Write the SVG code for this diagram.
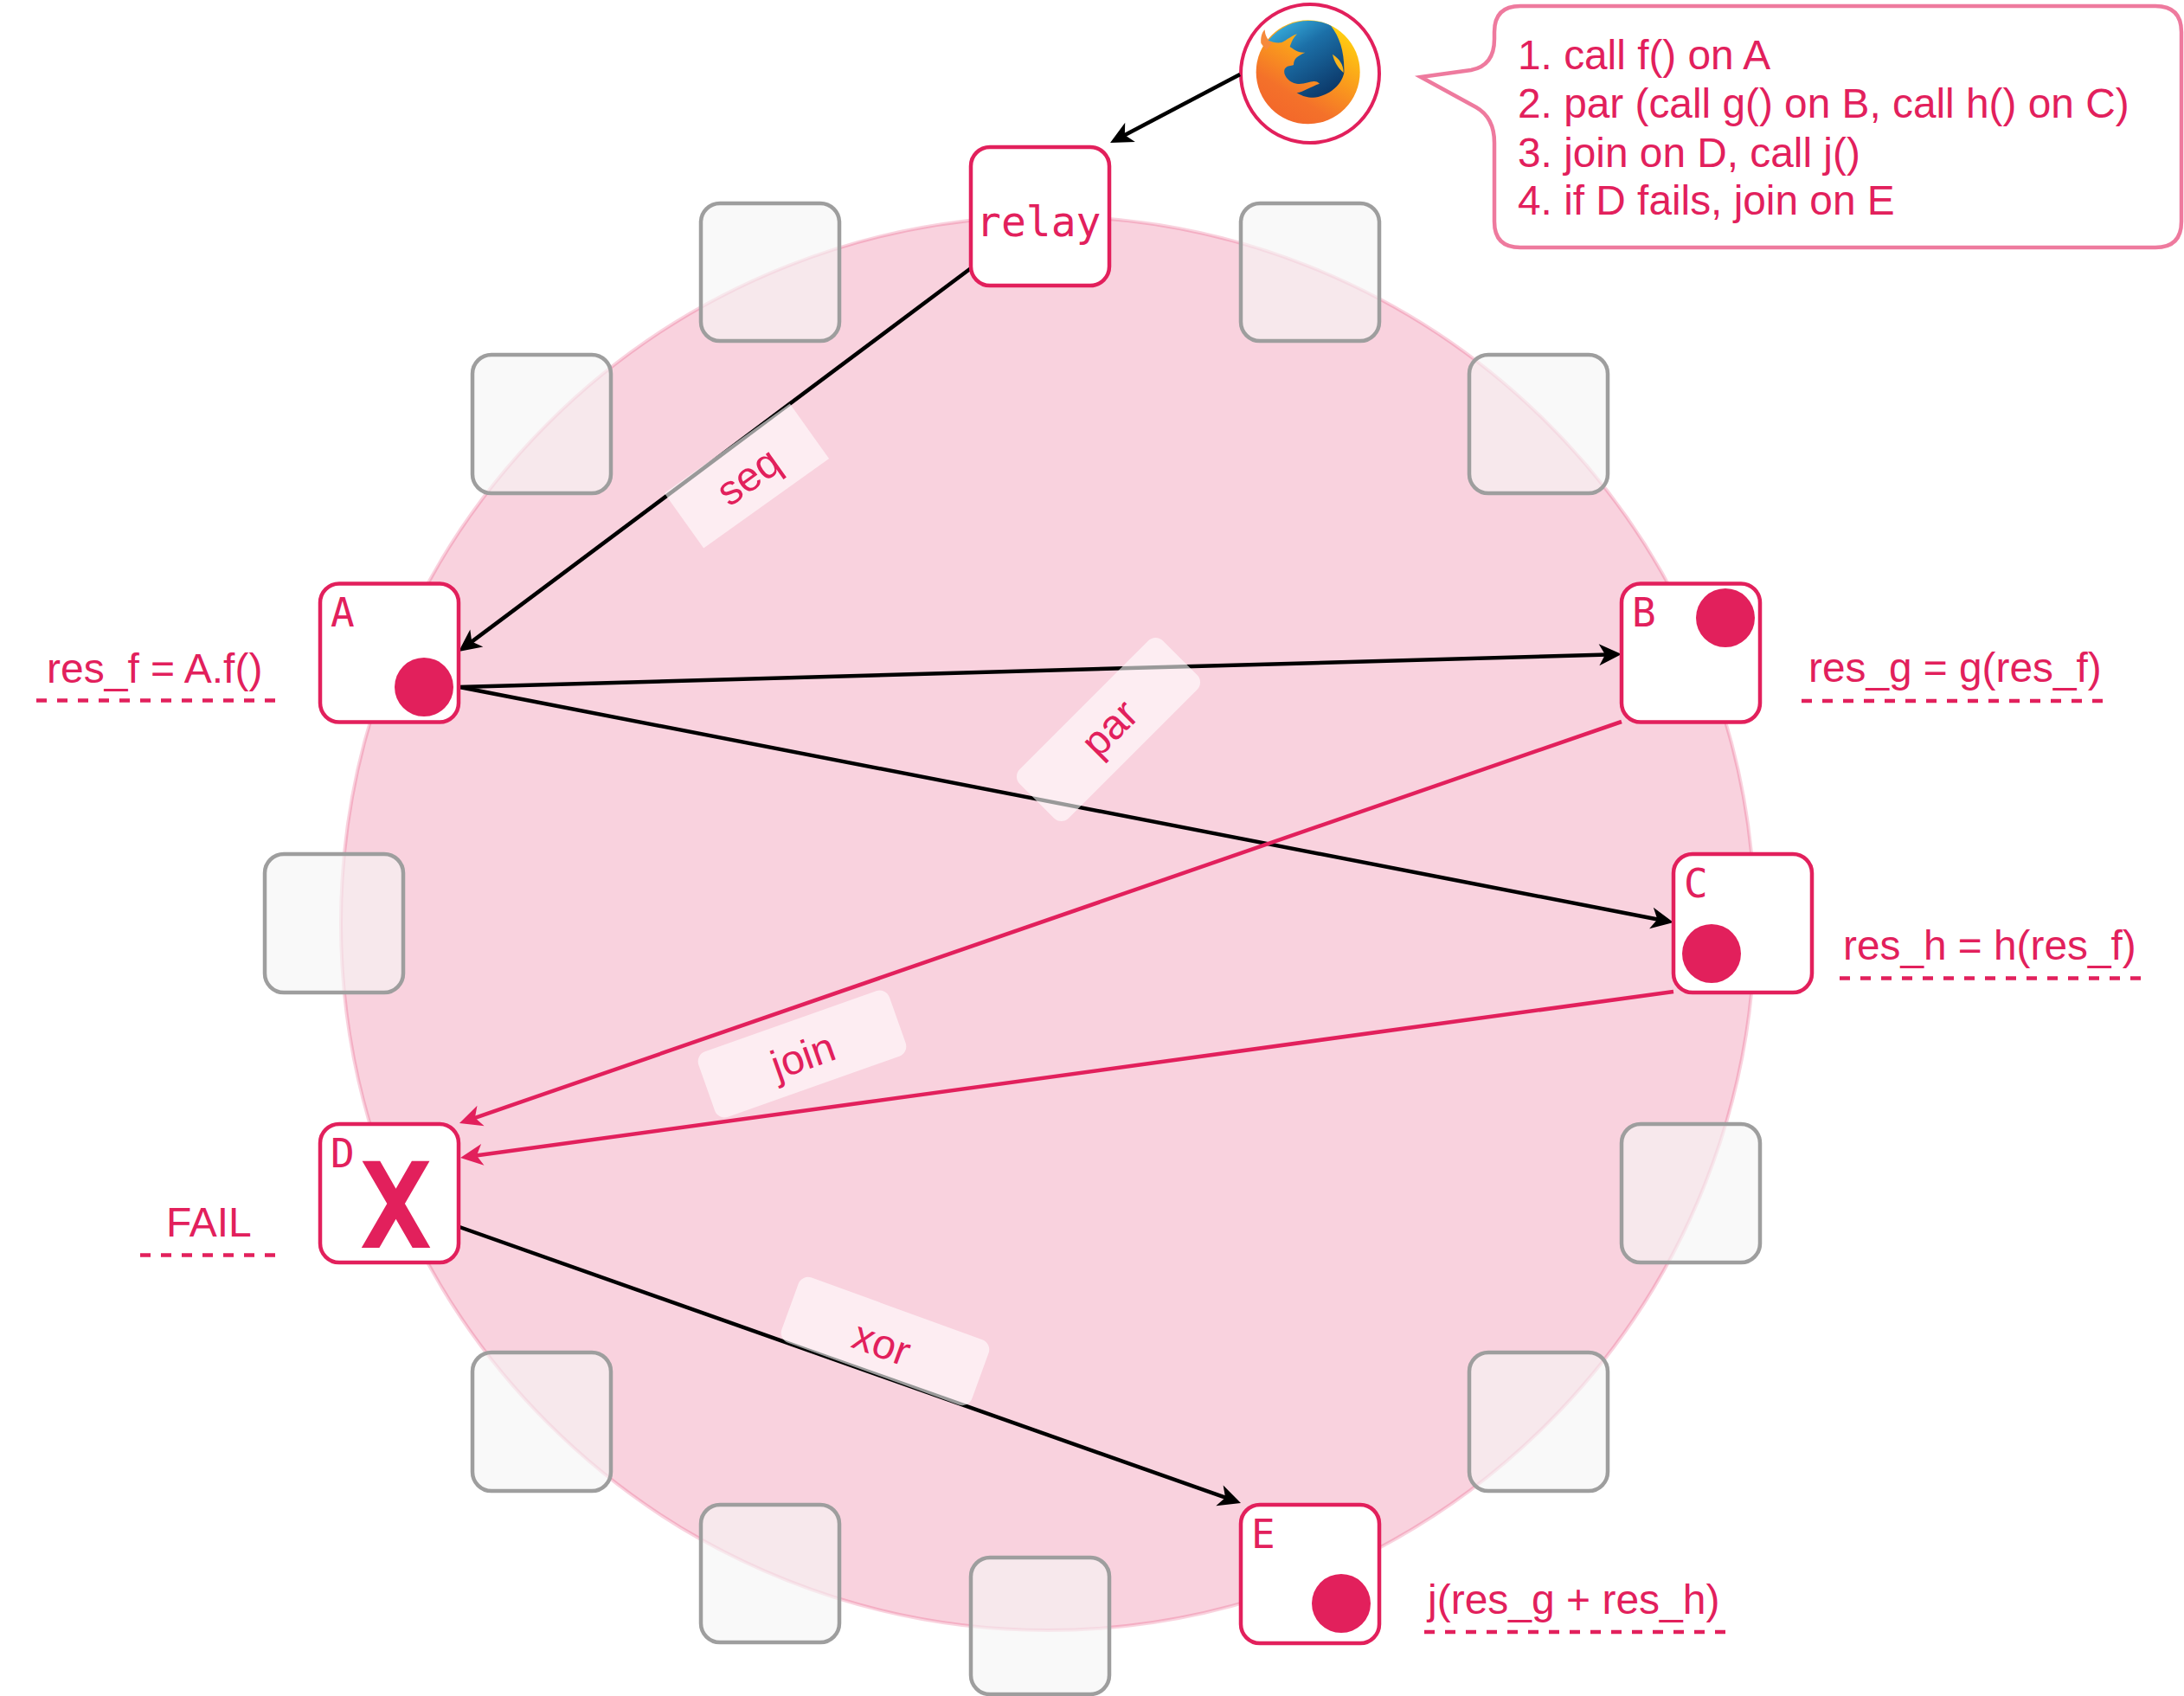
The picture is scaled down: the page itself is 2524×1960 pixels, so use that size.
<svg xmlns="http://www.w3.org/2000/svg" width="2524" height="1960" viewBox="0 0 2524 1960">
<style>
text{font-family:"Liberation Sans",Arial,sans-serif;fill:#e2205c;font-size:48px}
.mono{font-family:"DejaVu Sans Mono","Liberation Mono",monospace;font-size:46px}
.node{fill:#fff;stroke:#e2205c;stroke-width:4.500}
.ghost{fill:#f5f5f5;fill-opacity:.62;stroke:#9e9e9e;stroke-width:4.500}
.dot{fill:#e2205c}
.conn{fill:none;stroke-width:4.500}
.k{stroke:#000;marker-end:url(#ah-k)}
.p{stroke:#e2205c;marker-end:url(#ah-p)}
.dash{stroke:#e2205c;stroke-width:4.500;stroke-dasharray:12 12;fill:none}
.tag{fill:#fff;fill-opacity:.6}
.mid{text-anchor:middle}
.note{font-size:47.800px}
</style>
<defs>
<marker id="ah-k" markerUnits="userSpaceOnUse" markerWidth="28" markerHeight="28" viewBox="0 0 28 28" refX="11" refY="14" orient="auto"><path d="M27 14 L1 1.500 L8 14 L1 26.500 Z" fill="#000"/></marker>
<marker id="ah-p" markerUnits="userSpaceOnUse" markerWidth="28" markerHeight="28" viewBox="0 0 28 28" refX="11" refY="14" orient="auto"><path d="M27 14 L1 1.500 L8 14 L1 26.500 Z" fill="#e2205c"/></marker>
<linearGradient id="ffBody" x1="0.85" y1="0.1" x2="0.3" y2="1">
<stop offset="0" stop-color="#ffd010"/><stop offset="0.35" stop-color="#fba31a"/><stop offset="0.75" stop-color="#f4712a"/><stop offset="1" stop-color="#f3672a"/>
</linearGradient>
<linearGradient id="ffGlobe" x1="0.1" y1="0" x2="0.75" y2="1">
<stop offset="0" stop-color="#3bb6e4"/><stop offset="0.4" stop-color="#1c70a8"/><stop offset="1" stop-color="#0b3768"/>
</linearGradient>
</defs>
<circle id="ring" cx="1211" cy="1067" r="817" fill="#e2205c" fill-opacity=".2" stroke="#e2205c" stroke-opacity=".2" stroke-width="4"/>
<g id="ghost-nodes">
<rect id="g1" class="ghost" x="810" y="235" width="160" height="159" rx="22"/>
<rect id="g2" class="ghost" x="1434" y="235" width="160" height="159" rx="22"/>
<rect id="g3" class="ghost" x="546" y="410" width="160" height="160" rx="22"/>
<rect id="g4" class="ghost" x="1698" y="410" width="160" height="160" rx="22"/>
<rect id="g5" class="ghost" x="306" y="987" width="160" height="160" rx="22"/>
<rect id="g6" class="ghost" x="1874" y="1299" width="160" height="160" rx="22"/>
<rect id="g7" class="ghost" x="546" y="1563" width="160" height="160" rx="22"/>
<rect id="g8" class="ghost" x="1698" y="1563" width="160" height="160" rx="22"/>
<rect id="g9" class="ghost" x="810" y="1739" width="160" height="159" rx="22"/>
<rect id="g10" class="ghost" x="1122" y="1800" width="160" height="158" rx="22"/>
</g>
<g id="browser">
<circle cx="1514" cy="85" r="80" fill="#fff" stroke="#e2205c" stroke-width="4"/>
<g transform="translate(1400 0) scale(.33333)">
<circle cx="335" cy="250" r="180" fill="url(#ffBody)"/>
<path d="M172 150 C170 130 175 112 185 103 C186 125 195 138 210 150 L190 175 Z" fill="#f68a3c"/>
<path d="M197 140 C240 90 290 72 335 72 C365 72 395 78 415 90 C445 130 462 180 460 252 C450 300 400 338 345 338 C325 338 310 330 296 322 C320 318 345 300 375 290 C355 270 330 295 295 290 C265 285 245 255 255 238 C265 225 275 230 285 225 C285 205 295 195 325 182 C300 185 285 170 272 162 C280 140 285 130 297 118 C275 125 250 148 240 148 C225 150 210 145 197 140 Z" fill="url(#ffGlobe)"/>
<path d="M420 188 C445 205 458 225 458 252 C438 235 425 212 420 188 Z" fill="#f9b41c"/>
</g>
</g>
<g id="connectors">
<line class="conn k" x1="1433" y1="86" x2="1297.200" y2="157.500"/>
<line class="conn k" x1="1122" y1="310" x2="542.800" y2="743.400"/>
<line class="conn k" x1="531" y1="794" x2="1858" y2="756.500"/>
<line class="conn k" x1="531" y1="794" x2="1918.300" y2="1063"/>
<line class="conn p" x1="1874" y1="834" x2="546.100" y2="1292.800"/>
<line class="conn p" x1="1934" y1="1146" x2="547.900" y2="1335.800"/>
<line class="conn k" x1="531" y1="1418" x2="1418.900" y2="1731.700"/>
</g>
<g id="relay"><rect class="node" x="1122" y="170" width="160" height="160" rx="22"/><text class="mono" x="1128" y="273" style="font-size:48px">relay</text></g>
<g id="A"><rect class="node" x="370" y="674.500" width="160" height="160" rx="22"/><text class="mono" x="382" y="724">A</text><circle class="dot" cx="490" cy="794" r="34"/></g>
<g id="B"><rect class="node" x="1874" y="674.500" width="160" height="160" rx="22"/><text class="mono" x="1886" y="724">B</text><circle class="dot" cx="1994" cy="714" r="34"/></g>
<g id="C"><rect class="node" x="1934" y="987" width="160" height="160" rx="22"/><text class="mono" x="1946" y="1037">C</text><circle class="dot" cx="1978" cy="1102" r="34"/></g>
<g id="D"><rect class="node" x="370" y="1299" width="160" height="160" rx="22"/><text class="mono" x="382" y="1349">D</text><text class="mono mid" x="457.500" y="1442" style="font-size:138px;font-weight:bold">X</text></g>
<g id="E"><rect class="node" x="1434" y="1739" width="160" height="160" rx="22"/><text class="mono" x="1446" y="1789">E</text><circle class="dot" cx="1550" cy="1853" r="34"/></g>
<g id="tag-seq" transform="translate(863 550) rotate(-35.500)"><rect class="tag" x="-89" y="-39" width="178" height="78"/><text class="mid" x="1" y="18">seq</text></g>
<g id="tag-par" transform="translate(1281 843) rotate(-45)"><rect class="tag" x="-117" y="-40" width="234" height="80" rx="12"/><text class="mid" x="2" y="16">par</text></g>
<g id="tag-join" transform="translate(927 1218) rotate(-19.500)"><rect class="tag" x="-117" y="-40" width="234" height="80" rx="12"/><text class="mid" y="19">join</text></g>
<g id="tag-xor" transform="translate(1023 1550) rotate(20)"><rect class="tag" x="-117" y="-40" width="234" height="80" rx="12"/><text class="mid" x="-3" y="20">xor</text></g>
<g id="callout">
<path d="M1642 89 L1700 81 Q1727 76 1727 45 V37 Q1727 7 1757 7 H2491 Q2521 7 2521 37 V256 Q2521 286 2491 286 H1757 Q1727 286 1727 256 V165 Q1727 136 1706 124 Z" fill="#fff" stroke="#ee7a9e" stroke-width="4.500"/>
<text class="note" x="1754" y="80">1. call f() on A</text>
<text class="note" x="1754" y="136">2. par (call g() on B, call h() on C)</text>
<text class="note" x="1754" y="193">3. join on D, call j()</text>
<text class="note" x="1754" y="248">4. if D fails, join on E</text>
</g>
<g id="annotations">
<text x="54" y="789">res_f = A.f()</text><line class="dash" x1="42" y1="809.500" x2="318" y2="809.500"/>
<text class="note" x="2090" y="788">res_g = g(res_f)</text><line class="dash" x1="2082" y1="810" x2="2430" y2="810"/>
<text class="note" x="2130" y="1109">res_h = h(res_f)</text><line class="dash" x1="2126" y1="1130.500" x2="2474" y2="1130.500"/>
<text x="192" y="1429">FAIL</text><line class="dash" x1="162" y1="1450.500" x2="318" y2="1450.500"/>
<text x="1650" y="1865">j(res_g + res_h)</text><line class="dash" x1="1646" y1="1886" x2="1994" y2="1886"/>
</g>
</svg>
